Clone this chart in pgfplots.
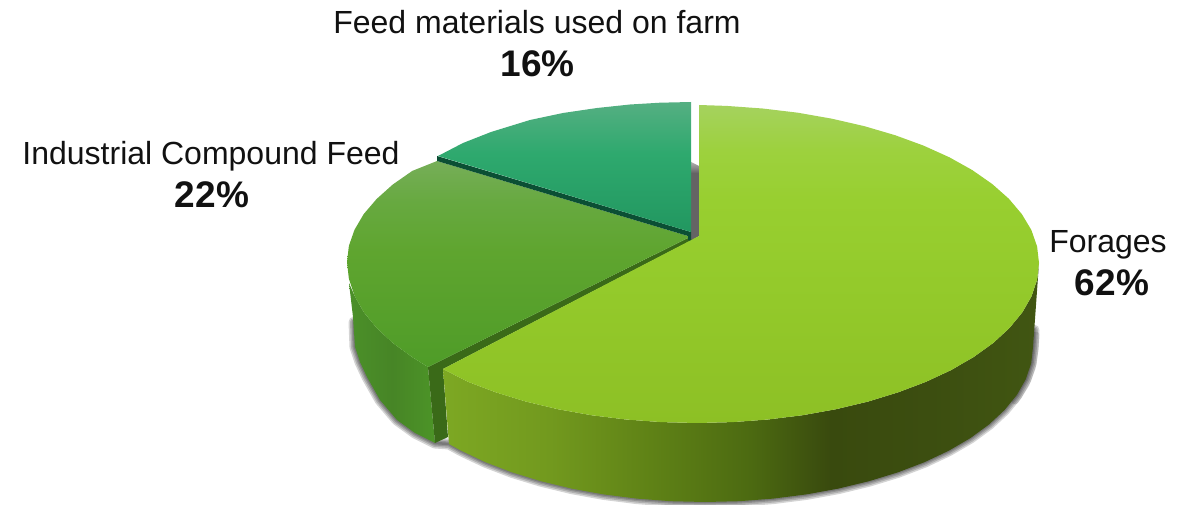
\documentclass[border=0pt]{standalone}
\usepackage{pgfplots}
\pgfplotsset{compat=1.18}
\usepackage{fontspec}
\setmainfont{Liberation Sans}

\definecolor{txt}{HTML}{111111}
\definecolor{cutdark}{HTML}{3A6A18}
\definecolor{cutteal}{HTML}{0B4F34}

%%% forages top: y 105..423
\definecolor{fa}{HTML}{8DC025}
\definecolor{fb}{HTML}{93C92A}
\definecolor{fc}{HTML}{98CF30}
\definecolor{fd}{HTML}{9DD13E}
\definecolor{fe}{HTML}{A5D25E}
\pgfdeclareverticalshading{topforage}{100bp}{
  color(0bp)=(fa); color(25bp)=(fa); color(44bp)=(fb); color(60bp)=(fc);
  color(68bp)=(fd); color(75bp)=(fe); color(100bp)=(fe)}

%%% forages wall
\definecolor{wa}{HTML}{7DA823}
\definecolor{wb}{HTML}{72991E}
\definecolor{wc}{HTML}{5F8216}
\definecolor{wd}{HTML}{4C6A11}
\definecolor{we}{HTML}{394A0E}
\definecolor{wf}{HTML}{3C4E10}
\definecolor{wg}{HTML}{415612}
\pgfdeclarehorizontalshading{wallforage}{100bp}{
  color(0bp)=(wa); color(25bp)=(wa); color(34bp)=(wb); color(42.4bp)=(wc);
  color(50.8bp)=(wd); color(57.5bp)=(we); color(65.8bp)=(wf);
  color(75bp)=(wg); color(100bp)=(wg)}

%%% compound feed top: y 158..367
\definecolor{ca}{HTML}{4F9C28}
\definecolor{cb}{HTML}{5FA52F}
\definecolor{cc}{HTML}{67A940}
\definecolor{cd}{HTML}{76AE58}
\pgfdeclareverticalshading{topcompound}{100bp}{
  color(0bp)=(ca); color(25bp)=(ca); color(53bp)=(cb); color(65bp)=(cc);
  color(75bp)=(cd); color(100bp)=(cd)}

%%% compound feed wall
\definecolor{la}{HTML}{4B9029}
\definecolor{lb}{HTML}{478526}
\definecolor{lc}{HTML}{4C9427}
\pgfdeclarehorizontalshading{wallcompound}{100bp}{
  color(0bp)=(la); color(25bp)=(la); color(50bp)=(lb); color(75bp)=(lc);
  color(100bp)=(lc)}

%%% farm feed top: y 102..232
\definecolor{ta}{HTML}{229760}
\definecolor{tb}{HTML}{2EA96E}
\definecolor{tc}{HTML}{55AF82}
\pgfdeclareverticalshading{topfarm}{100bp}{
  color(0bp)=(ta); color(25bp)=(ta); color(55bp)=(tb); color(75bp)=(tc);
  color(100bp)=(tc)}

%%% grey gap behind the pulled out slice
\definecolor{ga}{HTML}{646464}
\definecolor{gb}{HTML}{B0B0B0}
\pgfdeclareverticalshading{gapgrey}{100bp}{
  color(0bp)=(ga); color(68bp)=(ga); color(75bp)=(gb); color(100bp)=(gb)}

\begin{document}
\begin{tikzpicture}

  \begin{axis}[
    width = 1192pt,
    height = 505pt,
    scale only axis,
    hide axis,
    xmin = 0,
    xmax = 1192,
    ymin = 0,
    ymax = 505,
    y dir = reverse,
    enlargelimits = false
    ]

    %%% soft shadow, same line drawn a few times
    \pgfplotsinvokeforeach{11,8,5,2.5}{
      \addplot [draw=black, draw opacity=0.17, line width=#1pt,
                line join=round, line cap=round] coordinates {
        (354,322) (355,347) (360,362) (367,377) (380,400)
        (397,420) (415,433) (435,443) (449,444)
        (461.2,450.7) (485.5,462.2) (512.2,472.4) (541,481.2) (571.6,488.6)
        (603.6,494.4) (636.8,498.6) (670.7,501.2) (705,502) (739.3,501.2)
        (773.2,498.6) (806.4,494.4) (838.4,488.6) (869,481.2) (897.8,472.4)
        (924.5,462.2) (948.8,450.7) (970.4,438.1) (989,424.5) (1004.6,410)
        (1016.9,394.9) (1025.8,379.2) (1031.2,363.2) (1033,347) (1034,330)};
    }
    %%% shadow is a bit wider on the right
    \addplot [draw=black, draw opacity=0.13, line width=7pt,
              line join=round, line cap=round] coordinates {
      (1036,335) (1035,350) (1032,368) (1026,384) (1015,401)};

    %%% gap between farm feed and forages
    \addplot [draw=none, shade, shading=gapgrey] coordinates {
      (691,162) (699,166) (699,236) (691,241)};

    %%% compound feed wall
    \addplot [draw=none, shade, shading=wallcompound] coordinates {
      (349,283) (351,300) (353,317) (355,347) (360,362) (367,377) (380,400)
      (397,420) (415,433) (435,443) (428,367) (412.3,357.2) (392.8,343)
      (376.6,327.9) (363.7,312.1) (354.5,295.7)};

    %%% dark cut face of compound feed
    \addplot [draw=none, fill=cutdark] coordinates {
      (428,367) (688,238) (692,240) (443,369) (448,437) (435,443)};

    %%% compound feed top
    \addplot [draw=none, shade, shading=topcompound] coordinates {
      (437,161) (412.3,170.9) (392.8,184.5) (376.6,199) (363.7,214.1)
      (354.5,229.8) (348.9,245.8) (347,262) (348.9,278.9) (354.5,295.7)
      (363.7,312.1) (376.6,327.9) (392.8,343) (412.3,357.2) (428,367)
      (688,238) (688,236)};

    %%% dark cut face of farm feed
    \addplot [draw=none, fill=cutteal] coordinates {
      (437,156) (691,232) (691,241) (688,240) (688,236) (437,161)};

    %%% farm feed top
    \addplot [draw=none, shade, shading=topfarm] coordinates {
      (691,232) (438,156) (463,143) (491,132) (530,120) (563,113) (597,108)
      (630,104.5) (660,102.7) (691,102)};

    %%% forages wall
    \addplot [draw=none, shade, shading=wallforage] coordinates {
      (1039,263) (1037.1,279.7) (1031.5,296.3) (1022.3,312.4) (1009.4,328.1)
      (993.2,343) (973.7,357) (951.1,370.1) (925.8,381.9) (898,392.4)
      (868,401.6) (836.1,409.2) (802.7,415.2) (768.1,419.5) (732.7,422.1)
      (697,423) (661.3,422.1) (625.9,419.5) (591.3,415.2) (557.9,409.2)
      (526,401.6) (496,392.4) (468.2,381.9) (443,369) (449,444)
      (461.2,450.7) (485.5,462.2) (512.2,472.4) (541,481.2) (571.6,488.6)
      (603.6,494.4) (636.8,498.6) (670.7,501.2) (705,502) (739.3,501.2)
      (773.2,498.6) (806.4,494.4) (838.4,488.6) (869,481.2) (897.8,472.4)
      (924.5,462.2) (948.8,450.7) (970.4,438.1) (989,424.5) (1004.6,410)
      (1016.9,394.9) (1025.8,379.2) (1031.2,363.2) (1033,347)};

    %%% forages top
    \addplot [draw=none, shade, shading=topforage] coordinates {
      (699,236) (699,105) (726.5,105.9) (762.6,108.5) (797.8,112.7)
      (831.9,118.7) (864.5,126.2) (895.1,135.2) (923.5,145.6) (949.4,157.3)
      (972.3,170.1) (992.2,184) (1008.8,198.7) (1021.9,214.2) (1031.4,230.1)
      (1037.1,246.5) (1039,263) (1037.1,279.7) (1031.5,296.3) (1022.3,312.4)
      (1009.4,328.1) (993.2,343) (973.7,357) (951.1,370.1) (925.8,381.9)
      (898,392.4) (868,401.6) (836.1,409.2) (802.7,415.2) (768.1,419.5)
      (732.7,422.1) (697,423) (661.3,422.1) (625.9,419.5) (591.3,415.2)
      (557.9,409.2) (526,401.6) (496,392.4) (468.2,381.9) (443,369)};

    %%% labels
    \node [anchor=base, text=txt, font=\fontsize{32}{36}\selectfont]
      at (axis cs:537,34) {Feed materials used on farm};
    \node [anchor=base, text=txt, font=\fontsize{37}{40}\selectfont\bfseries]
      at (axis cs:537.5,77) {16\%};
    \node [anchor=base, text=txt, font=\fontsize{32}{36}\selectfont]
      at (axis cs:211,165) {Industrial Compound Feed};
    \node [anchor=base, text=txt, font=\fontsize{37}{40}\selectfont\bfseries]
      at (axis cs:212,208) {22\%};
    \node [anchor=base, text=txt, font=\fontsize{32}{36}\selectfont]
      at (axis cs:1108,253) {Forages};
    \node [anchor=base, text=txt, font=\fontsize{37}{40}\selectfont\bfseries]
      at (axis cs:1112,295) {62\%};

  \end{axis}

  %%% page is exactly the axis box
  \pgfresetboundingbox
  \path [use as bounding box] (0,0) rectangle (1192pt,505pt);

\end{tikzpicture}
\end{document}
